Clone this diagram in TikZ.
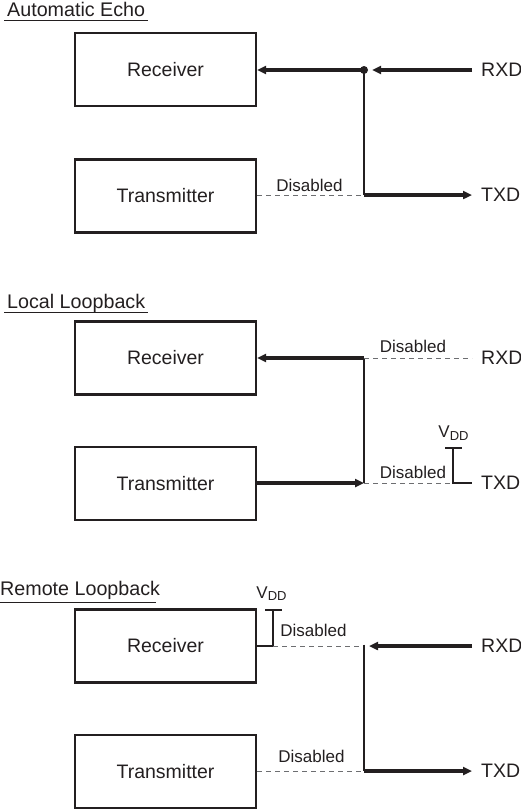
\documentclass[tikz,border=0pt]{standalone}
\usepackage{fontspec}
\setmainfont{Liberation Sans}
\usetikzlibrary{arrows.meta}
\definecolor{ink}{HTML}{231F20}
\definecolor{dashgray}{HTML}{6D6E71}
\begin{document}
\begin{tikzpicture}[x=1pt,y=-1pt,
  box/.style={draw=ink,line width=2.2pt,minimum width=181pt,minimum height=73pt,inner sep=0pt,font=\fontsize{19.5}{20}\selectfont,text=ink},
  bus/.style={draw=ink,line width=3.2pt},
  vline/.style={draw=ink,line width=2.2pt},
  dis/.style={draw=dashgray,line width=1pt,dash pattern=on 5pt off 4pt},
  arr/.style={-{Triangle[length=9pt,width=8pt]}},
  lbl/.style={font=\fontsize{17}{18}\selectfont,text=ink,anchor=base,inner sep=0pt},
  pin/.style={font=\fontsize{19.5}{20}\selectfont,text=ink,anchor=west,inner sep=0pt},
  ttl/.style={font=\fontsize{19.7}{20}\selectfont,text=ink,anchor=base west,inner sep=0pt},
  uline/.style={draw=ink,line width=1pt},
  tie/.style={draw=ink,line width=2.2pt},
  vdd/.style={text=ink,anchor=base,inner sep=0pt},
]
\useasboundingbox (0,0) rectangle (521,809);

% ---------- Automatic Echo ----------
\node[ttl] (t1) at (7,16) {Automatic Echo};
\draw[uline] (4,20.5) -- (148,20.5);
\node[box] (rec1) at (165.5,69.5) {Receiver};
\node[box] (tx1) at (165.5,196) {Transmitter};
\node[pin] (rxd1) at (481,70) {RXD};
\node[pin] (txd1) at (481,195) {TXD};
\coordinate (j1) at (364,70);
\coordinate (k1) at (364,195);
\coordinate (re1) at (472,70);
\coordinate (te1) at (472,195);
\draw[bus,arr] (j1) -- (rec1.east |- j1);
\draw[bus,arr] (re1) -- ([xshift=8pt]j1);
\fill[ink] (j1) circle (4pt);
\draw[vline] (j1) -- (k1);
\draw[bus,arr] (k1) -- (te1);
\draw[dis] (tx1.east |- k1) -- (k1);
\node[lbl] (d1) at (309.5,191.7) {Disabled};

% ---------- Local Loopback ----------
\node[ttl] (t2) at (7,308) {Local Loopback};
\draw[uline] (4,312.5) -- (148,312.5);
\node[box] (rec2) at (165.5,358) {Receiver};
\node[box] (tx2) at (165.5,483.5) {Transmitter};
\node[pin] (rxd2) at (481,358) {RXD};
\node[pin] (txd2) at (481,483) {TXD};
\coordinate (j2) at (364,358);
\coordinate (k2) at (364,483);
\coordinate (re2) at (472,358);
\coordinate (v2) at (453,483);
\coordinate (v2t) at (453,448);
\coordinate (te2) at (472,483);
\draw[bus,arr] (j2) -- (rec2.east |- j2);
\draw[vline] (j2) -- (k2);
\draw[bus,arr] (tx2.east |- k2) -- (k2);
\draw[dis] (j2) -- (re2);
\draw[dis] (k2) -- (v2);
\draw[tie] ([xshift=-8pt]v2t) -- ([xshift=9pt]v2t);
\draw[tie] (v2t) -- (v2) -- (te2);
\node[lbl] (d2a) at (413,352.7) {Disabled};
\node[lbl] (d2b) at (413,478) {Disabled};
\node[vdd] (vdd2) at (453.5,437.7) {{\fontsize{17}{17}\selectfont V}{\fontsize{13}{13}\selectfont\raisebox{-2.5pt}{DD}}};

% ---------- Remote Loopback ----------
\node[ttl] (t3) at (0,595) {Remote Loopback};
\draw[uline] (0,602) -- (156,602);
\node[box] (rec3) at (165.5,646) {Receiver};
\node[box] (tx3) at (165.5,771.5) {Transmitter};
\node[pin] (rxd3) at (481,646) {RXD};
\node[pin] (txd3) at (481,771) {TXD};
\coordinate (v3) at (273,646);
\coordinate (v3t) at (273,610);
\coordinate (j3) at (364,646);
\coordinate (k3) at (364,771);
\coordinate (re3) at (472,646);
\coordinate (te3) at (472,771);
\draw[tie] (rec3.east |- v3) -- (v3) -- (v3t);
\draw[tie] ([xshift=-8pt]v3t) -- ([xshift=9pt]v3t);
\draw[dis] (v3) -- (j3);
\draw[bus,arr] (re3) -- ([xshift=5pt]j3);
\draw[vline] ([yshift=1.5pt]j3) -- (k3);
\draw[bus,arr] (k3) -- (te3);
\draw[dis] (tx3.east |- k3) -- (k3);
\node[lbl] (d3a) at (313.5,636.7) {Disabled};
\node[lbl] (d3b) at (311.5,762.7) {Disabled};
\node[vdd] (vdd3) at (271.5,598) {{\fontsize{17}{17}\selectfont V}{\fontsize{13}{13}\selectfont\raisebox{-2.5pt}{DD}}};
\end{tikzpicture}
\end{document}
